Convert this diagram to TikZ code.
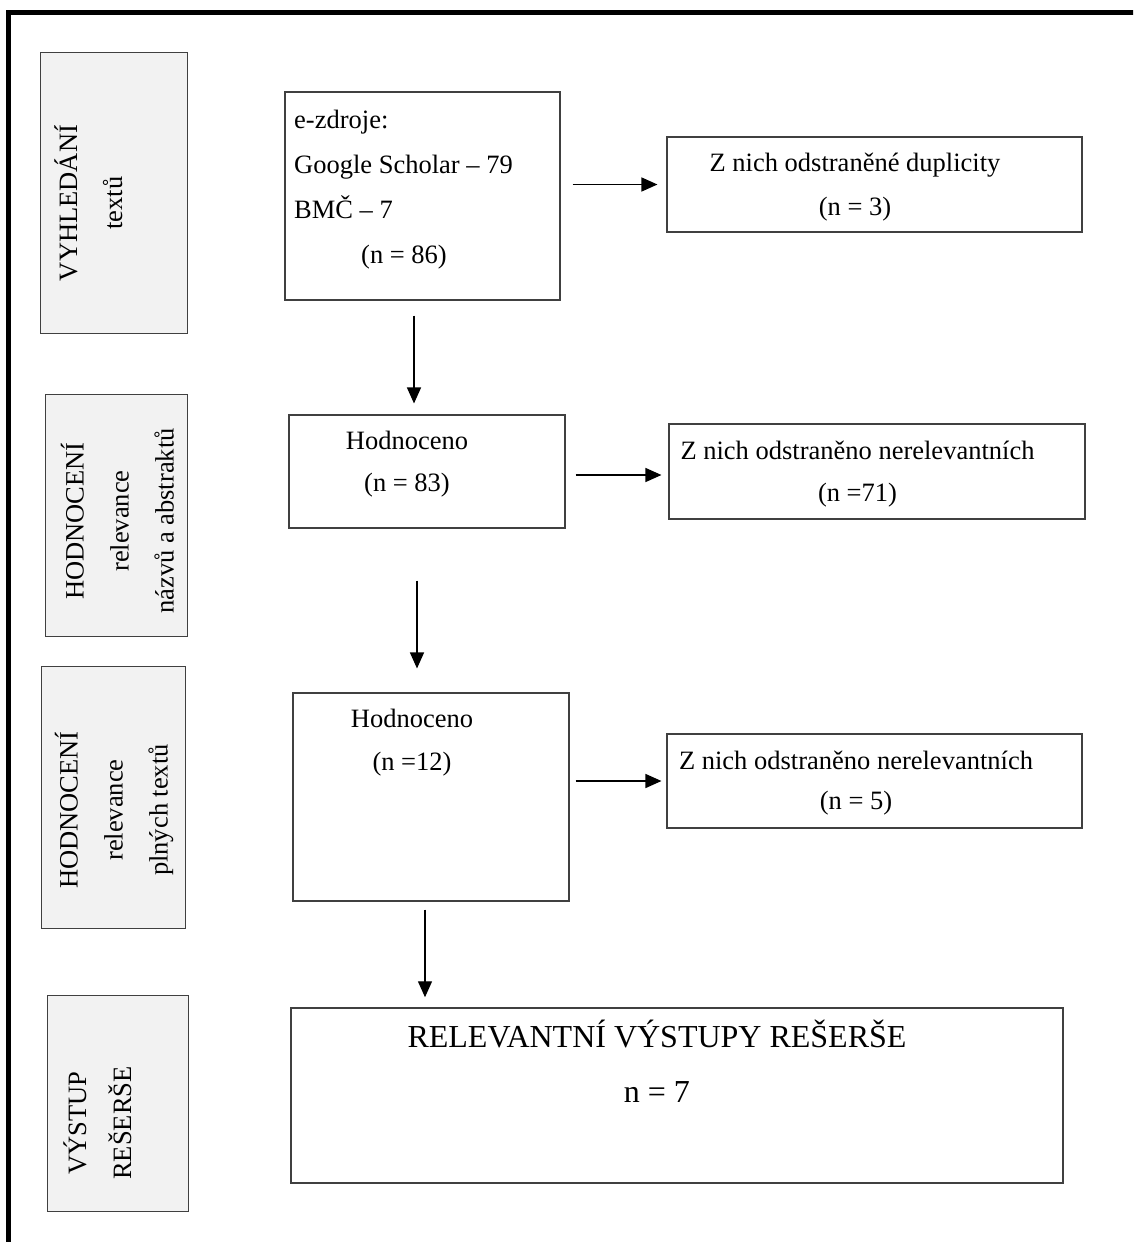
\documentclass[tikz,border=0pt]{standalone}
\usepackage{fontspec}
\setmainfont{Liberation Serif}
\usepackage{tikz}
\usetikzlibrary{arrows.meta, positioning, calc}

\begin{document}
\begin{tikzpicture}[
    x=1pt, y=-1pt,
    phase/.style={draw=black!75, fill=black!5, line width=1pt, inner sep=0pt},
    phasetext/.style={rotate=90, align=center, inner sep=0pt,
        font=\fontsize{26.5}{45}\selectfont},
    box/.style={draw=black!75, fill=white, line width=1.1pt, inner sep=0pt},
    boxtext/.style={align=center, inner sep=0pt, font=\fontsize{26.5}{43}\selectfont},
    arr/.style={-{Triangle[length=16pt, width=14pt]}, line width=1.4pt}
]
\useasboundingbox (0,0) rectangle (1133,1242);
\clip (0,0) rectangle (1133,1242);
\draw[line width=4.5pt] (8.5,12.5) rectangle (1200,1300);

% phases
\node[phase, minimum width=147pt, minimum height=281pt] (vyhledani) at (113.5,192.5) {};
\node[phasetext] (vyhledanitext) at (88.5,203) {VYHLEDÁNÍ\\textů};
\node[phase, minimum width=142pt, minimum height=242pt] (abstrakty) at (116,515) {};
\node[phasetext] (abstraktytext) at (117.5,521) {HODNOCENÍ\\relevance\\názvů a abstraktů};
\node[phase, minimum width=144pt, minimum height=262pt] (plnetexty) at (113,797) {};
\node[phasetext] (plnetextytext) at (114,810) {HODNOCENÍ\\relevance\\plných textů};
\node[phase, minimum width=141pt, minimum height=216pt] (vystup) at (117.5,1103) {};
\node[phasetext] (vystuptext) at (97.5,1123) {VÝSTUP\\REŠERŠE};

% flow
\node[box, minimum width=275pt, minimum height=208pt] (zdroje) at (422.5,196) {};
\node[boxtext, align=left, anchor=west, font=\fontsize{26.5}{45}\selectfont] (zdrojetext) at (294,190)
    {e-zdroje:\\Google Scholar – 79\\BMČ – 7\\\hspace*{67pt}(n = 86)};
\node[box, minimum width=415pt, minimum height=95pt] (dup) at (874.5,184.5) {};
\node[boxtext, font=\fontsize{26.5}{44}\selectfont] (duptext) at (855,187) {Z nich odstraněné duplicity\\(n = 3)};

\node[box, minimum width=276pt, minimum height=113pt] (hodn1) at (427,471.5) {};
\node[boxtext, font=\fontsize{26.5}{42}\selectfont] (hodn1text) at (407,464.5) {Hodnoceno\\(n = 83)};
\node[box, minimum width=416pt, minimum height=95pt] (nerel1) at (877,471.5) {};
\node[boxtext, font=\fontsize{26.5}{42}\selectfont] (nerel1text) at (857.5,474) {Z nich odstraněno nerelevantních\\(n =71)};

\node[box, minimum width=276pt, minimum height=208pt] (hodn2) at (431,797) {};
\node[boxtext] (hodn2text) at (412,743) {Hodnoceno\\(n =12)};
\node[box, minimum width=415pt, minimum height=94pt] (nerel2) at (874.5,781) {};
\node[boxtext, font=\fontsize{26.5}{40}\selectfont] (nerel2text) at (856,783) {Z nich odstraněno nerelevantních\\(n = 5)};

\node[box, line width=1.5pt, minimum width=772pt, minimum height=175pt] (vysledek) at (677,1095.5) {};
\node[boxtext, font=\fontsize{32}{55}\selectfont] (vysledektext) at (657,1061.5) {RELEVANTNÍ VÝSTUPY REŠERŠE\\n = 7};

\draw[arr, shorten <=12pt, shorten >=9pt] (zdroje.east |- dup.west) -- (dup.west);
\draw[arr, shorten <=15pt, shorten >=11pt] ([xshift=-8.5pt]zdroje.south) -- ([xshift=-8.5pt]zdroje.south |- hodn1.north);
\draw[arr, shorten <=10pt, shorten >=7pt] ([yshift=-3.5pt]hodn1.east) -- ([yshift=-3.5pt]hodn1.east -| nerel1.west);
\draw[arr, shorten <=52pt, shorten >=24pt] ([xshift=-10pt]hodn1.south) -- ([xshift=-10pt]hodn1.south |- hodn2.north);
\draw[arr, shorten <=6pt, shorten >=5pt] (nerel2.west -| hodn2.east) -- (nerel2.west);
\draw[arr, shorten <=8pt, shorten >=10pt] ([xshift=-6pt]hodn2.south) -- ([xshift=-6pt]hodn2.south |- vysledek.north);
\end{tikzpicture}
\end{document}
